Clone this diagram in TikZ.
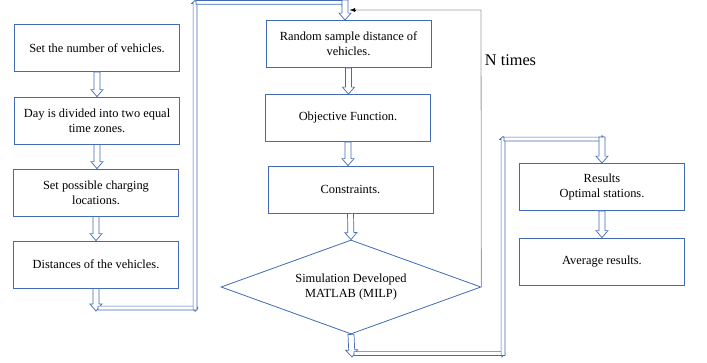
\documentclass[tikz,border=0pt]{standalone}
\usepackage{fontspec}
\setmainfont{Liberation Serif}
\usetikzlibrary{shapes.geometric,arrows.meta,calc}
\definecolor{flowblue}{RGB}{66,106,182}
\definecolor{loopgray}{RGB}{160,160,160}
\tikzset{
  box/.style={draw=flowblue, line width=0.8pt, fill=white, minimum width=165pt,
    minimum height=47pt, align=center, font=\rmfamily\fontsize{12.4}{15}\selectfont, inner sep=2pt},
  decision/.style={draw=flowblue, line width=0.8pt, diamond, aspect=2.77,
    minimum width=260pt, minimum height=94pt, inner sep=0pt, align=center,
    font=\rmfamily\fontsize{12.4}{15}\selectfont},
  blockarrow/.style={draw=flowblue, line width=0.7pt, fill=white, line join=miter},
  loopline/.style={draw=loopgray, line width=0.8pt},
}
% hollow block arrow from #1 to #2; #3 half shaft width, #4 half head width, #5 head length
\newcommand\blockarrow[5]{%
  \path (#2) coordinate (tipT) ($(#2)!#5!(#1)$) coordinate (tipB);
  \path[blockarrow] ($(#1)!#3!90:(#2)$) -- ($(tipB)!#3!-90:(#1)$)
    -- ($(tipB)!#4!-90:(#1)$) -- (tipT) -- ($(tipB)!#4!90:(#1)$)
    -- ($(tipB)!#3!90:(#1)$) -- ($(#1)!#3!-90:(#2)$) -- cycle;}
% wide arrow between boxes, narrow one for the long links
\newcommand\widearrow[2]{\blockarrow{#1}{#2}{3pt}{6pt}{7pt}}
\newcommand\linkarrow[2]{\blockarrow{#1}{#2}{1.9pt}{3.4pt}{3pt}}
% straight downward wide arrow from a node's south side to the next node
\newcommand\stepdown[2]{\widearrow{#1.south}{#1.south |- #2.north}}
\begin{document}
\begin{tikzpicture}[x=1pt,y=-1pt]
\useasboundingbox[fill=white] (0,0) rectangle (707,362);

% left column
\node[box] (n1) at (97,48) {Set the number of vehicles.};
\node[box] (n2) at (97,120.5) {Day is divided into two equal\\time zones.};
\node[box] (n3) at (96,192.5) {Set possible charging\\locations.};
\node[box] (n4) at (96,264.5) {Distances of the vehicles.};

% middle column
\node[box] (m1) at (348.5,44) {Random sample distance of\\vehicles.};
\node[box] (m2) at (348,118) {Objective Function.};
\node[box] (m3) at (350.5,189.5) {Constraints.};
\node[decision] (dia) at (351,287) {Simulation Developed\\MATLAB (MILP)};

% right column
\node[box] (r1) at (602,187) {Results\\Optimal stations.};
\node[box] (r2) at (602,261.5) {Average results.};

\node[font=\rmfamily\fontsize{16.3}{19}\selectfont] (nt) at (510.5,60) {N times};

% routing points
\coordinate (a1) at (96,311);
\coordinate (a2) at (98,308);
\coordinate (a3) at (198,308);
\coordinate (a4) at (195,310);
\coordinate (a5) at (195,0.5);
\coordinate (a6) at (196,2.3);
\coordinate (a7) at (345,2.3);
\coordinate (a8) at (345,0);
\coordinate (b1) at (352,357);
\coordinate (b2) at (354,353.5);
\coordinate (b3) at (505,353.5);
\coordinate (b4) at (503,355.5);
\coordinate (b5) at (503,136.5);
\coordinate (b6) at (504,139);
\coordinate (b7) at (605,139);
\coordinate (b8) at (602,137);
\coordinate (fbc) at (481,10);
\coordinate (fb) at (350,10);

% left column arrows
\stepdown{n1}{n2}
\stepdown{n2}{n3}
\stepdown{n3}{n4}
\widearrow{n4.south}{a1}

% link from the left column to the top of the loop
\linkarrow{a2}{a3}
\linkarrow{a4}{a5}
\linkarrow{a6}{a7}
\widearrow{a8}{a8 |- m1.north}

% loop body
\stepdown{m1}{m2}
\stepdown{m2}{m3}
\widearrow{m3.south}{dia.north}

% repeat path
\draw[loopline] (dia.east) -- (fbc) -- (fb);
\draw[-{Latex[length=5pt,width=4pt]}, black, line width=0.5pt] ($(fb)+(6,0)$) -- (fb);

% link from the decision to the results
\widearrow{dia.south}{b1}
\linkarrow{b2}{b3}
\linkarrow{b4}{b5}
\linkarrow{b6}{b7}
\widearrow{b8}{r1.north}
\stepdown{r1}{r2}
\end{tikzpicture}
\end{document}
